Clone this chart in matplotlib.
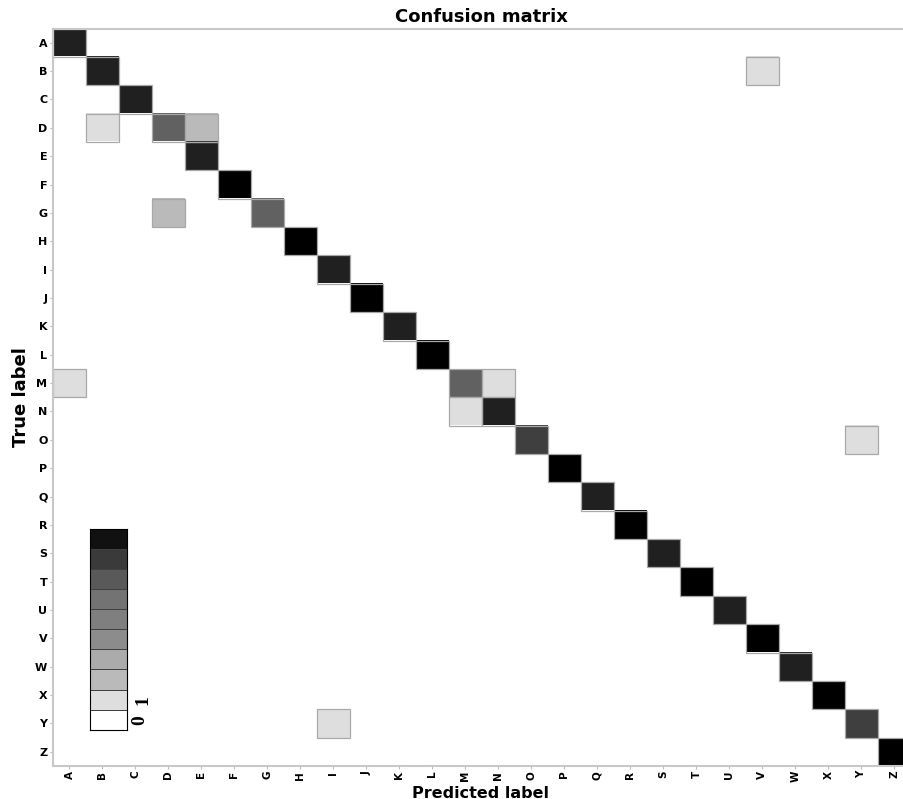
import numpy as np
import matplotlib
matplotlib.use("Agg")
import matplotlib.pyplot as plt
from matplotlib.patches import Rectangle

labels = list("ABCDEFGHIJKLMNOPQRSTUVWXYZ")

# diagonal (correct) rates per class
diag_vals = [0.87, 0.87, 0.87, 0.62, 0.87, 1.0, 0.62, 1.0, 0.87, 1.0, 0.87, 1.0, 0.62,
             0.87, 0.75, 1.0, 0.87, 1.0, 0.87, 1.0, 0.87, 1.0, 0.87, 1.0, 0.75, 1.0]

# off-diagonal confusions: (true, predicted, rate)
off_true = ["B", "D", "D", "G", "M", "M", "N", "O", "Y"]
off_pred = ["V", "B", "E", "D", "A", "N", "M", "Y", "I"]
off_vals = [0.13, 0.13, 0.27, 0.27, 0.13, 0.13, 0.13, 0.13, 0.13]

# colour key bands (bottom to top)
cbar_levels = [0.0, 0.13, 0.27, 0.33, 0.45, 0.5, 0.55, 0.65, 0.77, 0.93]
cbar_ticklabels = ["0", "1"]


def build_matrix():
    n = len(labels)
    cm = np.zeros((n, n))
    for i, v in enumerate(diag_vals):
        cm[i, i] = v
    for t, p, v in zip(off_true, off_pred, off_vals):
        cm[labels.index(t), labels.index(p)] = v
    return cm


def main():
    cm = build_matrix()
    n = len(labels)
    fig = plt.figure(figsize=(9.04, 7.99), dpi=100)
    ax = fig.add_axes([0.0586, 0.0413, 0.949, 0.923])

    ax.imshow(cm, cmap="gray_r", vmin=0, vmax=1, aspect="auto", interpolation="nearest")
    # thin grey outline around the non-empty cells
    for i, j in zip(*np.nonzero(cm)):
        ax.add_patch(Rectangle((j - 0.5, i - 0.5), 1, 1, fill=False,
                               edgecolor="#a8a8a8", linewidth=0.9))
    ax.set_xlim(-0.5, n - 0.5)
    ax.set_ylim(n - 0.5, -0.5)

    ax.set_xticks(range(n))
    ax.set_yticks(range(n))
    ax.set_xticklabels(labels, rotation=90, fontsize=7.5, fontweight="bold")
    ax.set_yticklabels(labels, fontsize=8, fontweight="bold")
    ax.tick_params(length=2, color="#bbbbbb", pad=2)
    ax.tick_params(axis="x", pad=1.5)
    for s in ax.spines.values():
        s.set_color("#c8c8c8")
        s.set_linewidth(1.5)

    ax.set_title("Confusion matrix", fontsize=13, fontweight="bold", pad=5)
    fig.text(0.531, -0.002, "Predicted label", ha="center", va="bottom",
             fontsize=11.5, fontweight="bold")
    ax.set_ylabel("True label", fontsize=13, fontweight="bold", labelpad=4)

    # small stepped colour key in the lower-left corner
    cax = ax.inset_axes([0.043, 0.049, 0.043, 0.273])
    bands = np.array(cbar_levels).reshape(-1, 1)
    cax.pcolormesh(np.array([0, 1]), np.arange(len(cbar_levels) + 1), bands,
                   cmap="gray_r", vmin=0, vmax=1, edgecolors="#404040", linewidth=0.6)
    cax.set_xlim(0, 1)
    cax.set_ylim(0, len(cbar_levels))
    cax.set_xticks([])
    cax.set_yticks([])
    for s in cax.spines.values():
        s.set_color("black")
        s.set_linewidth(0.8)
    cax.text(1.35, 0.5, cbar_ticklabels[0], rotation=90,
             ha="center", va="center", fontsize=14, family="Liberation Serif", fontweight="bold")
    cax.text(1.45, 1.5, cbar_ticklabels[1], rotation=90,
             ha="center", va="center", fontsize=14, family="Liberation Serif", fontweight="bold")

    fig.savefig("out.png", dpi=100)


if __name__ == "__main__":
    main()
